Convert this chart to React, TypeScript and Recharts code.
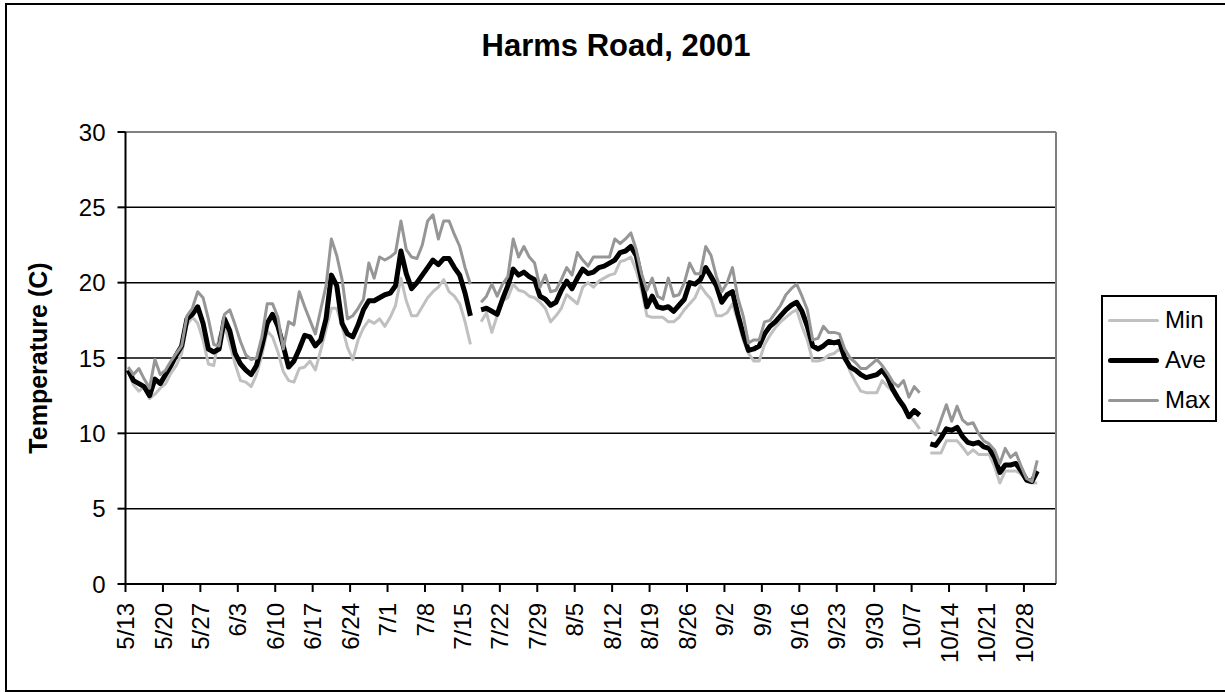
import React from "react";
import { CartesianGrid, Legend, Line, LineChart, ReferenceLine, XAxis, YAxis } from "recharts";

const FONT = '"Liberation Sans", Arial, sans-serif';

// one value per day, starting 5/13/2001 (null = no reading)
const minTemp = [
  14.1, 13.2, 12.8, 13.1, 12.3, 12.6, 13.0, 13.3, 14.0, 14.5, 15.3, 17.2, 17.7, 17.3, 16.2, 14.6, 14.5, 16.4, 17.2, 15.9,
  14.6, 13.5, 13.4, 13.1, 13.9, 15.2, 16.8, 16.4, 15.4, 14.1, 13.5, 13.4, 14.3, 14.4, 14.8, 14.2, 15.5, 16.9, 18.3, 18.3,
  17.1, 15.7, 14.9, 16.2, 17.0, 17.5, 17.3, 17.6, 17.1, 17.7, 18.5, 20.3, 18.8, 17.8, 17.8, 18.4, 19.0, 19.4, 19.7, 20.2,
  19.4, 19.1, 18.6, 17.4, 15.9, null, 17.4, 18.0, 16.7, 17.8, 18.8, 19.0, 19.9, 19.5, 19.4, 19.1, 19.0, 18.7, 18.3, 17.4,
  17.8, 18.3, 19.2, 18.9, 18.6, 19.7, 20.0, 19.7, 20.1, 20.3, 20.5, 20.6, 21.4, 21.5, 21.7, 20.8, 19.5, 17.8, 17.7, 17.7,
  17.7, 17.4, 17.4, 17.7, 18.2, 18.6, 19.0, 19.8, 19.3, 18.9, 17.8, 17.8, 18.0, 18.6, 17.5, 16.2, 15.3, 14.8, 14.8, 15.9,
  16.5, 17.0, 17.4, 17.7, 18.0, 18.2, 17.1, 16.2, 14.8, 14.8, 14.9, 15.2, 15.3, 15.6, 15.1, 14.1, 13.4, 12.8, 12.7, 12.7,
  12.7, 13.5, 13.1, 12.8, 12.2, 11.7, 11.2, 10.8, 10.3, null, 8.7, 8.7, 8.7, 9.5, 9.5, 9.5, 9.1, 8.6, 8.9, 8.6,
  8.6, 8.6, 7.8, 6.7, 7.5, 7.5, 7.5, 7.3, 6.8, 6.7, 6.7,
];

const aveTemp = [
  14.2, 13.5, 13.3, 13.1, 12.5, 13.6, 13.3, 13.9, 14.5, 15.2, 15.8, 17.6, 17.9, 18.4, 17.3, 15.6, 15.4, 15.6, 17.6, 16.8,
  15.3, 14.6, 14.2, 13.9, 14.5, 15.8, 17.3, 17.9, 17.1, 15.8, 14.4, 14.8, 15.6, 16.5, 16.4, 15.8, 16.2, 17.6, 20.5, 19.8,
  17.3, 16.6, 16.4, 17.2, 18.2, 18.8, 18.8, 19.0, 19.2, 19.3, 19.8, 22.1, 20.6, 19.6, 20.0, 20.5, 21.0, 21.5, 21.2, 21.6,
  21.6, 21.0, 20.5, 19.3, 17.8, null, 18.2, 18.3, 18.1, 17.9, 18.9, 19.8, 20.9, 20.5, 20.7, 20.4, 20.2, 19.1, 18.9, 18.5,
  18.7, 19.5, 20.1, 19.6, 20.3, 20.9, 20.6, 20.7, 21.0, 21.1, 21.3, 21.5, 22.0, 22.1, 22.4, 21.8, 20.2, 18.4, 19.1, 18.4,
  18.3, 18.4, 18.1, 18.5, 18.9, 20.0, 19.9, 20.2, 21.0, 20.4, 19.8, 18.7, 19.2, 19.4, 17.9, 16.6, 15.5, 15.6, 15.8, 16.6,
  17.1, 17.4, 17.8, 18.2, 18.5, 18.7, 18.1, 17.1, 15.8, 15.6, 15.8, 16.1, 16.0, 16.1, 15.0, 14.4, 14.2, 13.9, 13.7, 13.8,
  13.9, 14.2, 13.7, 12.9, 12.3, 11.8, 11.1, 11.5, 11.2, null, 9.3, 9.2, 9.7, 10.3, 10.2, 10.4, 9.8, 9.4, 9.3, 9.4,
  9.1, 9.0, 8.4, 7.4, 7.9, 7.9, 8.0, 7.5, 6.9, 6.8, 7.5,
];

const maxTemp = [
  14.4, 13.9, 14.3, 13.6, 13.0, 14.9, 13.9, 14.2, 14.8, 15.3, 15.8, 17.8, 18.3, 19.4, 19.0, 17.6, 15.9, 15.8, 17.9, 18.2,
  17.2, 16.1, 15.2, 14.9, 15.0, 16.4, 18.6, 18.6, 17.7, 15.6, 17.4, 17.2, 19.4, 18.4, 17.5, 16.6, 18.2, 19.8, 22.9, 21.8,
  20.2, 17.6, 17.8, 18.3, 18.9, 21.3, 20.3, 21.7, 21.5, 21.7, 22.0, 24.1, 22.2, 21.7, 21.6, 22.5, 24.1, 24.5, 22.9, 24.1,
  24.1, 23.2, 22.4, 21.0, 19.9, null, 18.7, 19.1, 19.9, 19.1, 19.9, 20.4, 22.9, 21.7, 22.4, 21.7, 21.3, 19.7, 20.5, 19.4,
  19.5, 20.2, 21.0, 20.5, 22.0, 21.5, 21.1, 21.7, 21.7, 21.7, 21.7, 22.9, 22.6, 22.9, 23.3, 22.2, 20.6, 19.5, 20.3, 19.1,
  18.9, 20.3, 19.1, 19.2, 20.0, 21.3, 20.6, 20.6, 22.4, 21.8, 20.4, 19.4, 20.0, 21.0, 19.0, 17.8, 16.0, 16.2, 16.2, 17.4,
  17.5, 18.0, 18.5, 19.2, 19.6, 19.9, 19.1, 18.2, 16.2, 16.3, 17.1, 16.7, 16.7, 16.6, 15.6, 15.0, 14.7, 14.3, 14.3, 14.6,
  14.9, 14.5, 14.0, 13.4, 13.1, 13.5, 12.4, 13.1, 12.7, null, 10.2, 9.9, 10.9, 11.9, 10.8, 11.8, 10.9, 10.6, 10.7, 10.0,
  9.5, 9.3, 8.9, 8.0, 9.0, 8.4, 8.7, 7.8, 7.0, 6.8, 8.2,
];

const seriesNames = ["Min", "Ave", "Max"];

// category axis runs 5/13 .. 11/2, labelled weekly
const DAY_COUNT = 174;
const weekLabels = [
  "5/13", "5/20", "5/27", "6/3", "6/10", "6/17", "6/24", "7/1", "7/8", "7/15", "7/22", "7/29", "8/5",
  "8/12", "8/19", "8/26", "9/2", "9/9", "9/16", "9/23", "9/30", "10/7", "10/14", "10/21", "10/28",
];
const yTicks = [0, 5, 10, 15, 20, 25, 30];

const rows = aveTemp.map((_, i) => ({
  day: i,
  Min: minTemp[i],
  Ave: aveTemp[i],
  Max: maxTemp[i],
}));

// tick marks sit on the day boundaries, like Excel's "between categories"
const weekTicks = weekLabels.map((_, k) => k * 7 - 0.5);

function DateTick({ x, y, payload }: any) {
  const label = weekLabels[Math.round((payload.value + 0.5) / 7)];
  return (
    <text
      x={x}
      y={y}
      transform={`rotate(-90, ${x}, ${y})`}
      textAnchor="end"
      dy="0.36em"
      fontSize={24}
      fontFamily={FONT}
      fill="#000"
    >
      {label}
    </text>
  );
}

function LegendBox({ payload }: any) {
  const items = seriesNames
    .map((name) => (payload || []).find((p: any) => p.value === name))
    .filter(Boolean);
  return (
    <div
      style={{
        boxSizing: "border-box",
        width: 116,
        height: 127,
        border: "2px solid #000",
        background: "#fff",
        padding: "3px 0 0 5px",
        fontFamily: FONT,
        fontSize: 24,
      }}
    >
      {items.map((p: any) => (
        <div key={p.value} style={{ display: "flex", alignItems: "center", height: 40 }}>
          <span
            style={{
              display: "inline-block",
              width: 51,
              height: p.value === "Ave" ? 5 : 3,
              borderRadius: 3,
              background: p.color,
              marginRight: 6,
            }}
          />
          <span>{p.value}</span>
        </div>
      ))}
    </div>
  );
}

export default function App() {
  return (
    <div
      style={{
        position: "absolute",
        left: 0,
        top: 0,
        width: 1225,
        height: 692,
        overflow: "hidden",
        background: "#fff",
        fontFamily: FONT,
      }}
    >
      <div
        style={{
          position: "absolute",
          left: 5,
          top: 3,
          width: 1230,
          height: 685,
          borderLeft: "2px solid #000",
          borderTop: "2px solid #000",
          borderBottom: "2px solid #000",
        }}
      />
      <div
        style={{
          position: "absolute",
          left: 0,
          top: 26,
          width: 1232,
          textAlign: "center",
          fontWeight: "bold",
          fontSize: 31,
          lineHeight: "40px",
        }}
      >
        Harms Road, 2001
      </div>
      <div style={{ position: "absolute", left: 0, top: 0 }}>
        <LineChart
          width={1225}
          height={692}
          data={rows}
          margin={{ top: 132, right: 169, bottom: 48, left: 0 }}
        >
          <CartesianGrid horizontal vertical={false} stroke="#000" strokeWidth={1.5} />
          <XAxis
            dataKey="day"
            type="number"
            domain={[-0.5, DAY_COUNT - 0.5]}
            ticks={weekTicks}
            interval={0}
            allowDataOverflow
            height={60}
            tickSize={8}
            tickMargin={11}
            tick={<DateTick />}
            axisLine={{ stroke: "#000", strokeWidth: 2 }}
            tickLine={{ stroke: "#000", strokeWidth: 2 }}
          />
          <YAxis
            type="number"
            domain={[0, 30]}
            ticks={yTicks}
            interval={0}
            width={125.5}
            tickSize={8}
            tickMargin={12}
            tick={{ fill: "#000", fontSize: 24, fontFamily: FONT }}
            axisLine={{ stroke: "#000", strokeWidth: 2 }}
            tickLine={{ stroke: "#000", strokeWidth: 2 }}
            label={{
              value: "Temperature (C)",
              angle: -90,
              position: "insideLeft",
              offset: 38,
              style: { textAnchor: "middle", fontWeight: "bold", fontSize: 25, fontFamily: FONT, fill: "#000" },
            }}
          />
          <ReferenceLine y={30} stroke="#808080" strokeWidth={2} />
          <ReferenceLine x={DAY_COUNT - 0.5} stroke="#808080" strokeWidth={2} />
          <Legend
            layout="vertical"
            align="center"
            verticalAlign="middle"
            wrapperStyle={{ left: 1101, top: 295, width: 116, height: 127 }}
            content={<LegendBox />}
          />
          <Line
            dataKey="Min"
            stroke="#c0c0c0"
            strokeWidth={3}
            dot={false}
            strokeLinejoin="round"
            isAnimationActive={false}
          />
          <Line
            dataKey="Ave"
            stroke="#000"
            strokeWidth={5}
            dot={false}
            strokeLinejoin="round"
            isAnimationActive={false}
          />
          <Line
            dataKey="Max"
            stroke="#969696"
            strokeWidth={3}
            dot={false}
            strokeLinejoin="round"
            isAnimationActive={false}
          />
        </LineChart>
      </div>
    </div>
  );
}
